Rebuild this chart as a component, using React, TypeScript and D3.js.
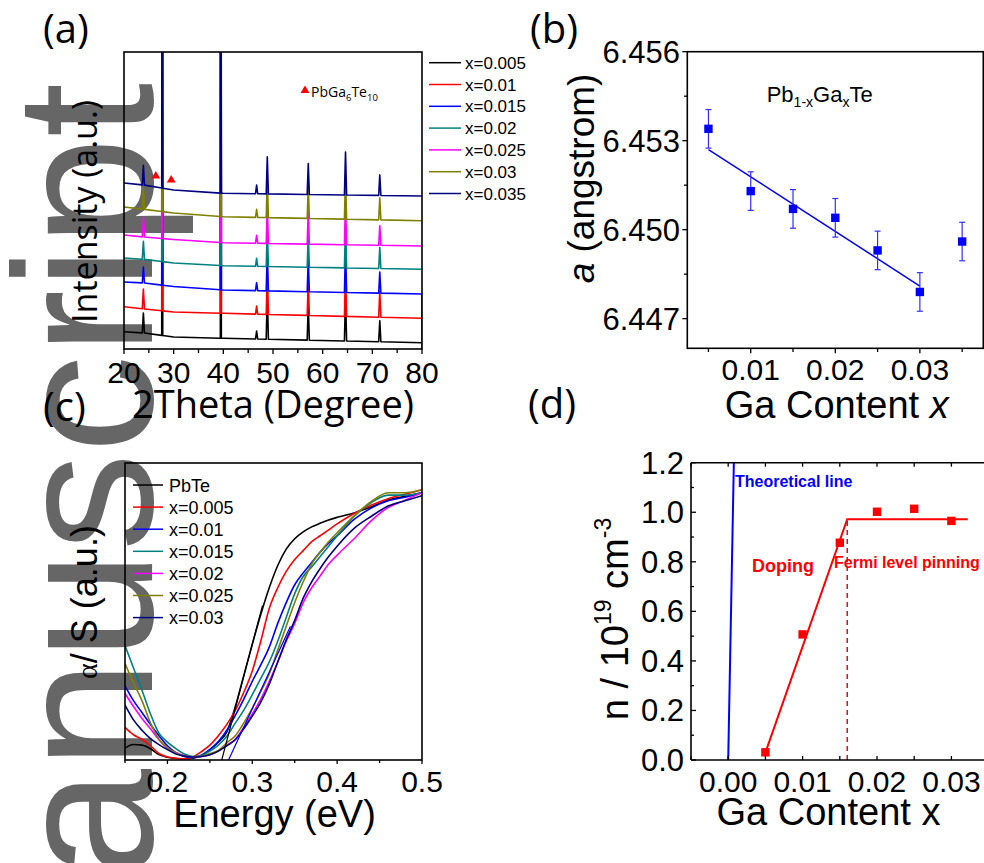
import React from 'react';
import * as d3 from 'd3';

const FA = "'Liberation Sans', Arial, Helvetica, sans-serif";
const FO = "'Open Sans', 'Liberation Sans', sans-serif";
const FS = "'Liberation Serif', 'Times New Roman', serif";

// ---------------- (a) XRD patterns ----------------
const xrdLabels = ['x=0.005', 'x=0.01', 'x=0.015', 'x=0.02', 'x=0.025', 'x=0.03', 'x=0.035'];
const xrdColors = ['#000000', '#ff0000', '#0000ff', '#008080', '#ff00ff', '#808000', '#000080'];
const xrdTicks = [20, 30, 40, 50, 60, 70, 80];
const xrdMinorTicks = [25, 35, 45, 55, 65, 75];
const xrdBaseKnots = [20, 24, 30, 40, 80];
const xrdBase = [
  [17.3, 16, 12, 10.7, 6.3],
  [42.3, 40, 37, 35.7, 30.7],
  [67, 66, 62.5, 59, 55],
  [91, 89.7, 86, 83.3, 79.7],
  [114, 112, 109.5, 106.3, 103],
  [142, 139.7, 136, 132.3, 128.3],
  [166, 164, 159, 155.7, 153],
];
const xrdPeakPos = [23.9, 27.7, 39.5, 46.7, 48.85, 57.1, 64.6, 71.5];
const xrdPeakHeights = [
  [20, 600, 600, 8, 48, 35, 45, 21],
  [20, 600, 600, 8, 42, 34, 44, 26],
  [16, 600, 600, 8, 40, 33, 44, 21],
  [18, 600, 600, 8, 38, 32, 44, 21],
  [20, 600, 600, 8, 38, 32, 44, 19.5],
  [21, 600, 600, 8, 38, 32, 44, 22],
  [19.7, 600, 600, 8.7, 37, 31, 43, 20.5],
];
const xrdEnd: (number | null)[] = [null, null, 0, null, null, null, null];
const impurity2Theta = [26.4, 29.5];
const impurityI = [173, 169];

// ---------------- (b) lattice parameter ----------------
const latX = [0.005, 0.01, 0.015, 0.02, 0.025, 0.03, 0.035];
const latA = [6.4534, 6.4513, 6.4507, 6.4504, 6.4493, 6.4479, 6.4496];
const latErr = [0.00065, 0.00065, 0.00065, 0.00065, 0.00065, 0.00065, 0.00065];
const latFitX = [0.005, 0.03];
const latFitA = [6.4527, 6.4481];
const latYTicks = [6.447, 6.45, 6.453, 6.456];
const latYMinor = [6.4485, 6.4515, 6.4545];
const latXTicks = [0.01, 0.02, 0.03];
const latXMinor = [0.005, 0.015, 0.025, 0.035];

// ---------------- (c) absorption ----------------
const absLabels = ['PbTe', 'x=0.005', 'x=0.01', 'x=0.015', 'x=0.02', 'x=0.025', 'x=0.03'];
const absColors = ['#000000', '#ff0000', '#0000ff', '#008080', '#ff00ff', '#808000', '#000080'];
const absEnergy = [0.15, 0.16, 0.17, 0.18, 0.19, 0.2, 0.21, 0.22, 0.23, 0.24, 0.25, 0.26, 0.27, 0.28, 0.29, 0.3,
  0.31, 0.32, 0.33, 0.34, 0.35, 0.36, 0.37, 0.38, 0.39, 0.4, 0.42, 0.44, 0.46, 0.48, 0.5];
const absPbTe = [0.04, 0.052, 0.05, 0.038, 0.018, 0.009, 0.005, 0.004, 0.006, 0.015, 0.035, 0.06, 0.095, 0.18, 0.285, 0.39,
  0.49, 0.58, 0.655, 0.71, 0.745, 0.768, 0.785, 0.797, 0.808, 0.817, 0.832, 0.852, 0.875, 0.888, 0.9];
const absX005 = [0.11, 0.085, 0.07, 0.048, 0.022, 0.01, 0.006, 0.004, 0.01, 0.028, 0.05, 0.082, 0.12, 0.167, 0.228, 0.3,
  0.4, 0.51, 0.58, 0.635, 0.675, 0.705, 0.735, 0.755, 0.775, 0.795, 0.83, 0.858, 0.88, 0.895, 0.91];
const absX010 = [0.25, 0.2, 0.16, 0.12, 0.082, 0.048, 0.025, 0.012, 0.008, 0.016, 0.035, 0.062, 0.1, 0.15, 0.205, 0.265,
  0.32, 0.38, 0.46, 0.53, 0.59, 0.63, 0.665, 0.7, 0.73, 0.755, 0.81, 0.848, 0.873, 0.885, 0.9];
const absX015 = [0.385, 0.31, 0.235, 0.155, 0.09, 0.06, 0.038, 0.02, 0.012, 0.015, 0.03, 0.05, 0.08, 0.124, 0.168, 0.22,
  0.275, 0.33, 0.4, 0.48, 0.56, 0.618, 0.65, 0.685, 0.72, 0.755, 0.82, 0.866, 0.892, 0.892, 0.9];
const absX020 = [0.224, 0.18, 0.14, 0.105, 0.068, 0.04, 0.025, 0.014, 0.01, 0.012, 0.018, 0.03, 0.05, 0.07, 0.11, 0.155,
  0.205, 0.265, 0.33, 0.4, 0.46, 0.53, 0.58, 0.62, 0.66, 0.69, 0.745, 0.805, 0.85, 0.875, 0.9];
const absX025 = [0.325, 0.26, 0.2, 0.125, 0.07, 0.04, 0.024, 0.014, 0.01, 0.012, 0.022, 0.032, 0.058, 0.082, 0.125, 0.175,
  0.23, 0.29, 0.37, 0.45, 0.53, 0.6, 0.66, 0.7, 0.735, 0.765, 0.822, 0.87, 0.9, 0.9, 0.91];
const absX030 = [0.185, 0.135, 0.1, 0.072, 0.052, 0.035, 0.02, 0.013, 0.01, 0.012, 0.018, 0.03, 0.048, 0.068, 0.105, 0.148,
  0.195, 0.255, 0.33, 0.405, 0.47, 0.545, 0.6, 0.645, 0.685, 0.72, 0.78, 0.82, 0.855, 0.873, 0.89];
const absSeries = [absPbTe, absX005, absX010, absX015, absX020, absX025, absX030];
const tangentBlackE = [0.264, 0.312];
const tangentBlackV = [0, 0.52];
const tangentBlueE = [0.272, 0.345];
const tangentBlueV = [0, 0.45];
const absTicks = [0.2, 0.3, 0.4, 0.5];
const absMinor = [0.15, 0.25, 0.35, 0.45];

// ---------------- (d) carrier concentration ----------------
const nX = [0.005, 0.01, 0.015, 0.02, 0.025, 0.03];
const nVal = [0.031, 0.507, 0.877, 1.002, 1.014, 0.965];
const dopingX = [0.005, 0.016, 0.0322];
const dopingN = [0.03, 0.972, 0.972];
const theoX = [0, 0.00076];
const theoN = [0, 1.2];
const pinningX = 0.016;
const nYTicks = [0, 0.2, 0.4, 0.6, 0.8, 1.0, 1.2];
const nYMinor = [0.1, 0.3, 0.5, 0.7, 0.9, 1.1];
const nXTicks = [0, 0.01, 0.02, 0.03];
const nXMinor = [-0.005, 0.005, 0.015, 0.025];

export default function App() {
  // (a)
  const ax = d3.scaleLinear().domain([20, 80]).range([124, 422]);
  const ay = d3.scaleLinear().domain([0, 297]).range([349, 52]);
  const aLine = d3.line<[number, number]>().x(d => ax(d[0])).y(d => ay(d[1]));
  const xrdPaths = xrdBase.map((base, i) => {
    const bf = d3.scaleLinear().domain(xrdBaseKnots).range(base);
    const pts: [number, number][] = [];
    const hwOf = (j: number) => (xrdPeakHeights[i][j] > 100 ? 0.1 : 0.22);
    xrdBaseKnots.forEach(k => {
      if (!xrdPeakPos.some((p, j) => Math.abs(k - p) <= hwOf(j))) pts.push([k, bf(k)]);
    });
    xrdPeakPos.forEach((p, j) => {
      const hw = hwOf(j);
      pts.push([p - hw, bf(p - hw)]);
      pts.push([p, bf(p) + xrdPeakHeights[i][j]]);
      pts.push([p + hw, bf(p + hw)]);
    });
    pts.sort((a, b) => a[0] - b[0]);
    const e = xrdEnd[i];
    if (e !== null) pts.push([80, e]);
    return aLine(pts) || '';
  });
  const tri = d3.symbol().type(d3.symbolTriangle).size(34)() || '';

  // (b)
  const bx = d3.scaleLinear().domain([0.0025, 0.0375]).range([687.3, 983.3]);
  const by = d3.scaleLinear().domain([6.446, 6.456]).range([348.3, 51.7]);

  // (c)
  const cx = d3.scaleLinear().domain([0.15, 0.5]).range([125, 422]);
  const cy = d3.scaleLinear().domain([0, 1]).range([760, 463]);
  const cLine = d3.line<number>().x((_, i) => cx(absEnergy[i])).y(d => cy(d)).curve(d3.curveMonotoneX);

  // (d)
  const dx = d3.scaleLinear().domain([-0.005, 0.035]).range([691, 988.6]);
  const dy = d3.scaleLinear().domain([0, 1.2]).range([760, 462.7]);
  const dLine = d3.line<[number, number]>().x(d => dx(d[0])).y(d => dy(d[1]));

  const tickW = 1.3;

  return (
    <svg width={984} height={863} viewBox="0 0 984 863"
      style={{ position: 'absolute', left: 0, top: 0, background: '#fff' }}>
      <defs>
        <clipPath id="clipA"><rect x={124} y={52} width={298} height={297} /></clipPath>
        <clipPath id="clipC"><rect x={125} y={463} width={297} height={297} /></clipPath>
        <clipPath id="clipD"><rect x={691} y={462.7} width={297.6} height={297.3} /></clipPath>
      </defs>
      <rect x={0} y={0} width={984} height={863} fill="#fff" />

      {/* watermark */}
      <text transform="translate(152,878) rotate(-90)" fontFamily={FA} fontSize={196} fill="#666666">anuscript</text>

      {/* ================= (a) ================= */}
      <text x={43} y={43} fontFamily={FO} fontSize={40}>(a)</text>
      <g clipPath="url(#clipA)">
        {xrdPaths.map((p, i) => (
          <path key={i} d={p} fill="none" stroke={xrdColors[i]} strokeWidth={1.6} strokeLinejoin="round" />
        ))}
      </g>
      {impurity2Theta.map((t, i) => (
        <path key={i} d={tri} transform={`translate(${ax(t)},${ay(impurityI[i])})`} fill="#ff0000" />
      ))}
      <path d={tri} transform="translate(305,90.5)" fill="#ff0000" />
      <text x={311} y={96.5} fontFamily={FO} fontSize={14}>
        PbGa<tspan fontSize={9.5} dy={4}>6</tspan><tspan dy={-4}>Te</tspan><tspan fontSize={9.5} dy={4}>10</tspan>
      </text>
      <rect x={124} y={52} width={298} height={297} fill="none" stroke="#000" strokeWidth={1.6} />
      {xrdTicks.map(t => (
        <g key={t}>
          <line x1={ax(t)} x2={ax(t)} y1={349} y2={354} stroke="#000" strokeWidth={tickW} />
          <text x={ax(t)} y={383} textAnchor="middle" fontFamily={FA} fontSize={30}>{t}</text>
        </g>
      ))}
      {xrdMinorTicks.map(t => (
        <line key={t} x1={ax(t)} x2={ax(t)} y1={349} y2={353} stroke="#000" strokeWidth={tickW} />
      ))}
      <text x={273} y={418} textAnchor="middle" fontFamily={FO} fontSize={38}>2Theta (Degree)</text>
      <text transform="translate(97,211.5) rotate(-90)" textAnchor="middle" fontFamily={FO} fontSize={34}>Intensity (a.u.)</text>
      {xrdLabels.map((l, i) => (
        <g key={l}>
          <line x1={429} x2={461} y1={62.7 + i * 21.8} y2={62.7 + i * 21.8} stroke={xrdColors[i]} strokeWidth={1.5} />
          <text x={465} y={62.7 + i * 21.8 + 6} fontFamily={FA} fontSize={17}>{l}</text>
        </g>
      ))}

      {/* ================= (b) ================= */}
      <text x={530} y={43} fontFamily={FO} fontSize={40}>(b)</text>
      <line x1={bx(latFitX[0])} y1={by(latFitA[0])} x2={bx(latFitX[1])} y2={by(latFitA[1])} stroke="#0000ff" strokeWidth={1.5} />
      {latX.map((x, i) => (
        <g key={x}>
          <line x1={bx(x)} x2={bx(x)} y1={by(latA[i] - latErr[i])} y2={by(latA[i] + latErr[i])} stroke="#3030ff" strokeWidth={1.2} />
          <line x1={bx(x) - 3} x2={bx(x) + 3} y1={by(latA[i] - latErr[i])} y2={by(latA[i] - latErr[i])} stroke="#3030ff" strokeWidth={1.2} />
          <line x1={bx(x) - 3} x2={bx(x) + 3} y1={by(latA[i] + latErr[i])} y2={by(latA[i] + latErr[i])} stroke="#3030ff" strokeWidth={1.2} />
          <rect x={bx(x) - 4.2} y={by(latA[i]) - 4.2} width={8.4} height={8.4} fill="#0000ff" />
        </g>
      ))}
      <rect x={687.3} y={51.7} width={296} height={296.6} fill="none" stroke="#000" strokeWidth={1.6} />
      {latYTicks.map(t => (
        <g key={t}>
          <line x1={687.3} x2={682.3} y1={by(t)} y2={by(t)} stroke="#000" strokeWidth={tickW} />
          <text x={680} y={by(t) + 11} textAnchor="end" fontFamily={FA} fontSize={31}>{t.toFixed(3)}</text>
        </g>
      ))}
      {latYMinor.map(t => (
        <line key={t} x1={687.3} x2={684} y1={by(t)} y2={by(t)} stroke="#000" strokeWidth={tickW} />
      ))}
      {latXTicks.map(t => (
        <g key={t}>
          <line x1={bx(t)} x2={bx(t)} y1={348.3} y2={353.3} stroke="#000" strokeWidth={tickW} />
          <text x={bx(t)} y={380} textAnchor="middle" fontFamily={FA} fontSize={30}>{t.toFixed(2)}</text>
        </g>
      ))}
      {latXMinor.map(t => (
        <line key={t} x1={bx(t)} x2={bx(t)} y1={348.3} y2={352} stroke="#000" strokeWidth={tickW} />
      ))}
      <text x={836.7} y={418} textAnchor="middle" fontFamily={FA} fontSize={38}>Ga Content <tspan fontStyle="italic">x</tspan></text>
      <text transform="translate(594,178.5) rotate(-90)" textAnchor="middle" fontFamily={FA} fontSize={37}>
        <tspan fontStyle="italic">a</tspan> (angstrom)
      </text>
      <text x={766.7} y={101.7} fontFamily={FA} fontSize={22}>
        Pb<tspan fontSize={14} dy={5}>1-x</tspan><tspan dy={-5}>Ga</tspan><tspan fontSize={14} dy={5}>x</tspan><tspan dy={-5}>Te</tspan>
      </text>

      {/* ================= (c) ================= */}
      <text x={43} y={421} fontFamily={FO} fontSize={40}>(c)</text>
      <g clipPath="url(#clipC)">
        {absSeries.map((s, i) => (
          <path key={i} d={cLine(s) || ''} fill="none" stroke={absColors[i]} strokeWidth={1.6} />
        ))}
        <line x1={cx(tangentBlackE[0])} y1={cy(tangentBlackV[0])} x2={cx(tangentBlackE[1])} y2={cy(tangentBlackV[1])} stroke="#000" strokeWidth={1.2} />
        <line x1={cx(tangentBlueE[0])} y1={cy(tangentBlueV[0])} x2={cx(tangentBlueE[1])} y2={cy(tangentBlueV[1])} stroke="#0000ff" strokeWidth={1.2} />
      </g>
      <rect x={125} y={463} width={297} height={297} fill="none" stroke="#000" strokeWidth={1.6} />
      {absTicks.map(t => (
        <g key={t}>
          <line x1={cx(t)} x2={cx(t)} y1={760} y2={764} stroke="#000" strokeWidth={tickW} />
          <text x={cx(t)} y={791.7} textAnchor="middle" fontFamily={FA} fontSize={30}>{t.toFixed(1)}</text>
        </g>
      ))}
      {absMinor.map(t => (
        <line key={t} x1={cx(t)} x2={cx(t)} y1={760} y2={763} stroke="#000" strokeWidth={tickW} />
      ))}
      <text x={274.5} y={826.7} textAnchor="middle" fontFamily={FA} fontSize={38}>Energy (eV)</text>
      <text transform="translate(97,602) rotate(-90)" textAnchor="middle" fontFamily={FA} fontSize={36}>
        <tspan fontFamily={FS} fontSize={30}>α</tspan>/ S (a.u.)
      </text>
      {absLabels.map((l, i) => (
        <g key={l}>
          <line x1={133} x2={163} y1={485 + i * 22.1} y2={485 + i * 22.1} stroke={absColors[i]} strokeWidth={1.5} />
          <text x={169} y={485 + i * 22.1 + 6.5} fontFamily={FA} fontSize={18}>{l}</text>
        </g>
      ))}

      {/* ================= (d) ================= */}
      <text x={528} y={418} fontFamily={FO} fontSize={40}>(d)</text>
      <g clipPath="url(#clipD)">
        <path d={dLine(theoX.map((x, i) => [x, theoN[i]] as [number, number])) || ''} fill="none" stroke="#0000ff" strokeWidth={2} />
        <path d={dLine(dopingX.map((x, i) => [x, dopingN[i]] as [number, number])) || ''} fill="none" stroke="#ff0000" strokeWidth={2} />
        <line x1={dx(pinningX)} x2={dx(pinningX)} y1={dy(0)} y2={dy(dopingN[1])} stroke="#ff0000" strokeWidth={1.5} strokeDasharray="5,4" />
        {nX.map((x, i) => (
          <rect key={x} x={dx(x) - 4.2} y={dy(nVal[i]) - 4.2} width={8.4} height={8.4} fill="#ff0000" />
        ))}
      </g>
      <line x1={691} x2={991} y1={462.7} y2={462.7} stroke="#000" strokeWidth={1.6} />
      <line x1={691} x2={691} y1={462.7} y2={760} stroke="#000" strokeWidth={1.6} />
      <line x1={691} x2={991} y1={760} y2={760} stroke="#000" strokeWidth={1.6} />
      {nYTicks.map(t => (
        <g key={t}>
          <line x1={691} x2={696} y1={dy(t)} y2={dy(t)} stroke="#000" strokeWidth={tickW} />
          <text x={684} y={dy(t) + 11} textAnchor="end" fontFamily={FA} fontSize={31}>{t.toFixed(1)}</text>
        </g>
      ))}
      {nYMinor.map(t => (
        <line key={t} x1={691} x2={694} y1={dy(t)} y2={dy(t)} stroke="#000" strokeWidth={tickW} />
      ))}
      {[...nXTicks, ...nXMinor].map(t => (
        <g key={t}>
          <line x1={dx(t)} x2={dx(t)} y1={462.7} y2={466.7} stroke="#000" strokeWidth={tickW} />
          <line x1={dx(t)} x2={dx(t)} y1={760} y2={756} stroke="#000" strokeWidth={tickW} />
        </g>
      ))}
      {nXTicks.map(t => (
        <text key={t} x={dx(t)} y={791.7} textAnchor="middle" fontFamily={FA} fontSize={30}>{t.toFixed(2)}</text>
      ))}
      <text x={828.5} y={825} textAnchor="middle" fontFamily={FA} fontSize={38}>Ga Content x</text>
      <text transform="translate(628,619) rotate(-90)" textAnchor="middle" fontFamily={FA} fontSize={38}>
        n / 10<tspan fontSize={23} dy={-17}>19</tspan><tspan dy={17}> cm</tspan><tspan fontSize={23} dy={-17}>-3</tspan>
      </text>
      <text x={735} y={486.7} fontFamily={FA} fontSize={16} fontWeight="bold" fill="#0000ff">Theoretical line</text>
      <text x={752} y={571.7} fontFamily={FA} fontSize={18} fontWeight="bold" fill="#ff0000">Doping</text>
      <text x={834} y={568} fontFamily={FA} fontSize={16} fontWeight="bold" fill="#ff0000">Fermi level pinning</text>
    </svg>
  );
}
